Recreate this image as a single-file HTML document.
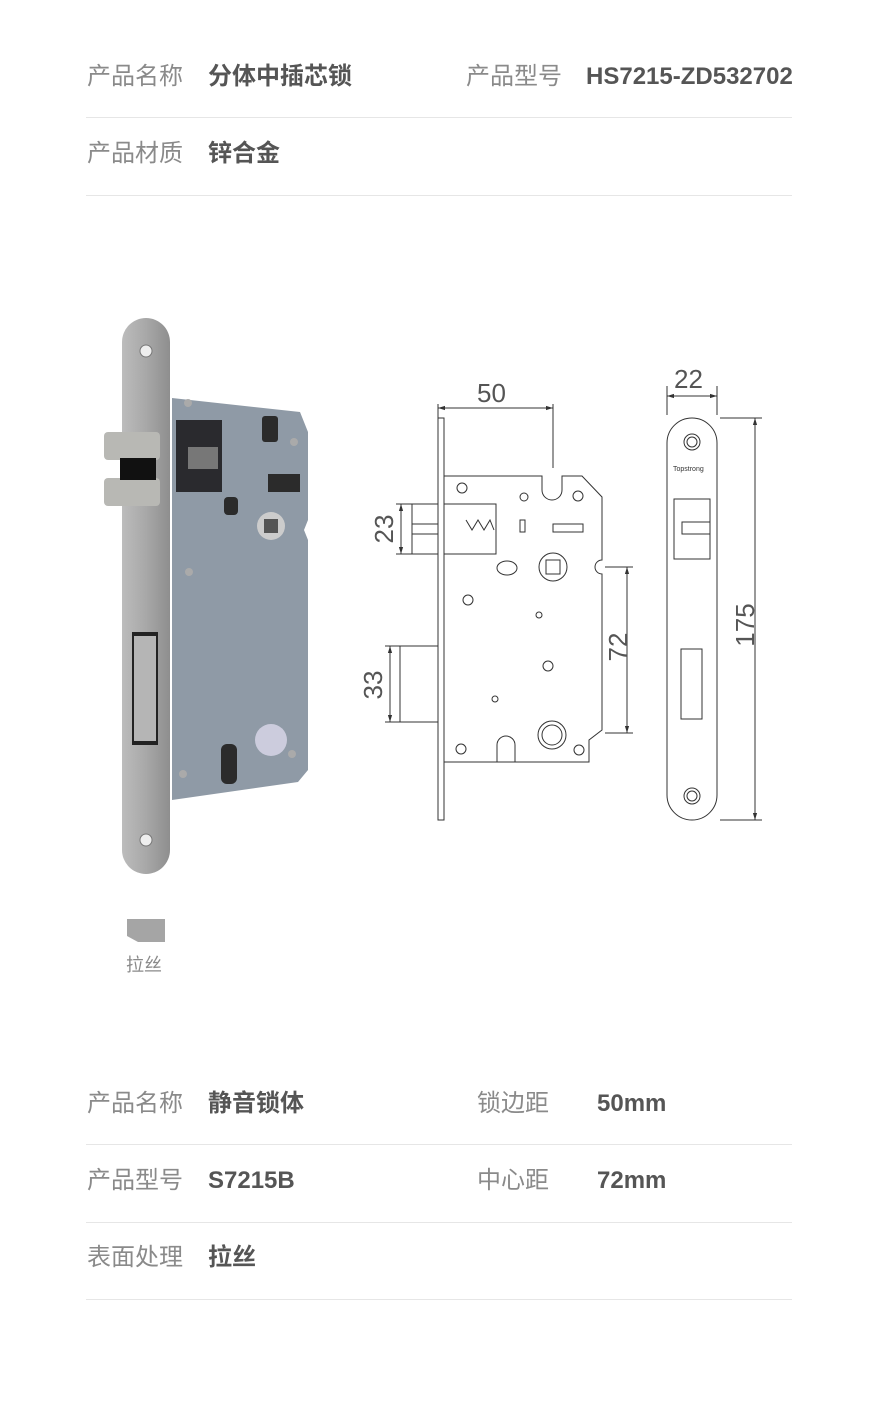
<!DOCTYPE html>
<html><head><meta charset="utf-8"><style>
body{margin:0;background:#fff;width:880px;height:1411px;position:relative;overflow:hidden;font-family:"Liberation Sans","Noto Sans CJK SC",sans-serif}
.t{position:absolute;font-size:24px;line-height:30px;white-space:nowrap}
.l{color:#8a8a8a}
.v{color:#555;font-weight:bold}
.hr{position:absolute;left:86px;width:706px;height:1px;background:#e6e6e6}
</style></head><body>
<div class="t l" style="left:87px;top:62px">产品名称</div>
<div class="t v" style="left:208px;top:62px">分体中插芯锁</div>
<div class="t l" style="left:466px;top:62px">产品型号</div>
<div class="t v" style="left:586px;top:62px">HS7215-ZD532702</div>
<div class="hr" style="top:117px"></div>
<div class="t l" style="left:87px;top:139px">产品材质</div>
<div class="t v" style="left:208px;top:139px">锌合金</div>
<div class="hr" style="top:195px"></div>

<svg style="position:absolute;left:0;top:0" width="880" height="1000">
<defs>
<linearGradient id="fp" x1="0" x2="1"><stop offset="0" stop-color="#bcbcbc"/><stop offset=".5" stop-color="#a8a8a8"/><stop offset="1" stop-color="#8e8e8e"/></linearGradient>
<marker id="a" viewBox="0 0 10 10" refX="10" refY="5" markerWidth="7" markerHeight="7" orient="auto-start-reverse"><path d="M0,2 L10,5 L0,8z" fill="#333"/></marker>
</defs>
<path d="M172,398 L300,412 L308,432 L308,520 L304,530 L308,540 L308,770 L298,782 L172,800z" fill="#8f9aa6"/>
<rect x="176" y="420" width="46" height="72" fill="#2a2a2e"/>
<rect x="188" y="447" width="30" height="22" fill="#777"/>
<rect x="262" y="416" width="16" height="26" fill="#2b2b2b" rx="3"/>
<rect x="268" y="474" width="32" height="18" fill="#2b2b2b"/>
<circle cx="271" cy="526" r="14" fill="#ccc"/><rect x="264" y="519" width="14" height="14" fill="#555"/>
<circle cx="271" cy="740" r="16" fill="#ccd"/>
<rect x="221" y="744" width="16" height="40" rx="6" fill="#2b2b2b"/>
<rect x="224" y="497" width="14" height="18" rx="4" fill="#2b2b2b"/>
<circle cx="188" cy="403" r="4" fill="#aaa"/><circle cx="294" cy="442" r="4" fill="#aaa"/><circle cx="189" cy="572" r="4" fill="#aaa"/><circle cx="292" cy="754" r="4" fill="#aaa"/><circle cx="183" cy="774" r="4" fill="#aaa"/>
<rect x="122" y="318" width="48" height="556" rx="24" fill="url(#fp)"/>
<circle cx="146" cy="351" r="6" fill="#eee" stroke="#777"/><circle cx="146" cy="840" r="6" fill="#eee" stroke="#777"/>
<rect x="132" y="632" width="26" height="113" fill="#222"/><rect x="134" y="636" width="22" height="105" fill="#b5b5b5"/>
<rect x="104" y="432" width="56" height="28" rx="4" fill="#b8b8b4"/><rect x="104" y="478" width="56" height="28" rx="4" fill="#b8b8b4"/><rect x="120" y="458" width="36" height="22" fill="#111"/>
<rect x="127" y="919" width="38" height="23" fill="#a5a5a5"/><path d="M127,936 L138,942 L127,942z" fill="#fff"/>
<g fill="none" stroke="#333" stroke-width="1">
<rect x="438" y="418" width="6" height="402"/>
<path d="M444,476 L542,476 L542,490 A10,10 0 0 0 562,490 L562,476 L582,476 L602,497 L602,560 A7,7 0 0 0 602,574 L602,730 L589,740 L589,762 L444,762"/>
<rect x="412" y="504" width="26" height="50"/><line x1="412" y1="524" x2="438" y2="524"/><line x1="412" y1="534" x2="438" y2="534"/>
<rect x="444" y="504" width="52" height="50"/>
<path d="M466,520 L472,530 L478,520 L484,530 L490,520 L494,530"/>
<rect x="400" y="646" width="38" height="76"/>
<circle cx="553" cy="567" r="14"/><rect x="546" y="560" width="14" height="14"/>
<ellipse cx="507" cy="568" rx="10" ry="7"/>
<circle cx="552" cy="735" r="14"/><circle cx="552" cy="735" r="10"/>
<path d="M497,762 L497,745 A9,9 0 0 1 515,745 L515,762"/>
<rect x="520" y="520" width="5" height="12"/><rect x="553" y="524" width="30" height="8"/>
<circle cx="539" cy="615" r="3"/><circle cx="495" cy="699" r="3"/><circle cx="524" cy="497" r="4"/>
<circle cx="462" cy="488" r="5"/><circle cx="578" cy="496" r="5"/><circle cx="468" cy="600" r="5"/><circle cx="548" cy="666" r="5"/><circle cx="461" cy="749" r="5"/><circle cx="579" cy="750" r="5"/>
<line x1="438" y1="408" x2="553" y2="408" marker-start="url(#a)" marker-end="url(#a)"/>
<line x1="553" y1="404" x2="553" y2="468"/><line x1="438" y1="404" x2="438" y2="418"/>
<line x1="401" y1="504" x2="401" y2="554" marker-start="url(#a)" marker-end="url(#a)"/>
<line x1="396" y1="504" x2="412" y2="504"/><line x1="396" y1="554" x2="412" y2="554"/>
<line x1="390" y1="646" x2="390" y2="722" marker-start="url(#a)" marker-end="url(#a)"/>
<line x1="385" y1="646" x2="400" y2="646"/><line x1="385" y1="722" x2="400" y2="722"/>
<line x1="627" y1="567" x2="627" y2="733" marker-start="url(#a)" marker-end="url(#a)"/>
<line x1="605" y1="567" x2="633" y2="567"/><line x1="605" y1="733" x2="633" y2="733"/>
<rect x="667" y="418" width="50" height="402" rx="25"/>
<circle cx="692" cy="442" r="8"/><circle cx="692" cy="442" r="5"/><circle cx="692" cy="796" r="8"/><circle cx="692" cy="796" r="5"/>
<rect x="674" y="499" width="36" height="60"/><rect x="682" y="522" width="28" height="12"/>
<rect x="681" y="649" width="21" height="70"/>
<line x1="667" y1="396" x2="717" y2="396" marker-start="url(#a)" marker-end="url(#a)"/>
<line x1="667" y1="386" x2="667" y2="415"/><line x1="717" y1="386" x2="717" y2="415"/>
<line x1="755" y1="418" x2="755" y2="820" marker-start="url(#a)" marker-end="url(#a)"/>
<line x1="720" y1="418" x2="762" y2="418"/><line x1="720" y1="820" x2="762" y2="820"/>
</g>
<g font-family="Liberation Sans,sans-serif" font-size="26" fill="#555">
<text x="477" y="402">50</text><text x="674" y="388">22</text>
<text transform="translate(393,529) rotate(-90)" text-anchor="middle">23</text>
<text transform="translate(382,685) rotate(-90)" text-anchor="middle">33</text>
<text transform="translate(627,647) rotate(-90)" text-anchor="middle">72</text>
<text transform="translate(754,625) rotate(-90)" text-anchor="middle">175</text>
<text x="673" y="471" font-size="7" fill="#333">Topstrong</text>
</g>
</svg>
<div class="t l" style="left:126px;top:953px;font-size:18px;line-height:24px">拉丝</div>

<div class="t l" style="left:87px;top:1089px">产品名称</div>
<div class="t v" style="left:208px;top:1089px">静音锁体</div>
<div class="t l" style="left:477px;top:1089px">锁边距</div>
<div class="t v" style="left:597px;top:1089px">50mm</div>
<div class="hr" style="top:1144px"></div>
<div class="t l" style="left:87px;top:1166px">产品型号</div>
<div class="t v" style="left:208px;top:1166px">S7215B</div>
<div class="t l" style="left:477px;top:1166px">中心距</div>
<div class="t v" style="left:597px;top:1166px">72mm</div>
<div class="hr" style="top:1222px"></div>
<div class="t l" style="left:87px;top:1243px">表面处理</div>
<div class="t v" style="left:208px;top:1243px">拉丝</div>
<div class="hr" style="top:1299px"></div>
</body></html>
